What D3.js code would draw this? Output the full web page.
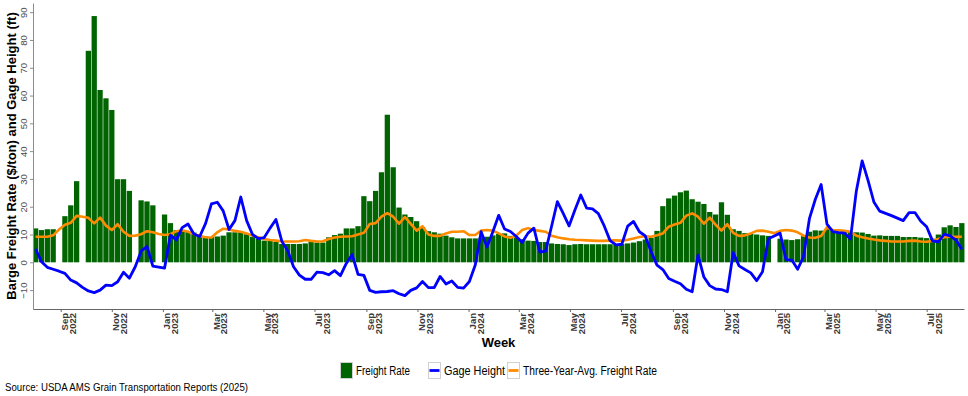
<!DOCTYPE html>
<html>
<head>
<meta charset="utf-8">
<script src="https://cdn.jsdelivr.net/npm/d3@7"></script>
<style>
  html, body { margin: 0; padding: 0; background: #fff; }
  svg { display: block; font-family: "Liberation Sans", Arial, sans-serif; }
</style>
</head>
<body>
<svg id="barge_chart" width="968" height="396"></svg>
<script>
//  data: weekly (Tuesday) observations starting 2022-08-02
const firstWeek = "2022-08-02";

//  $/ton, null = no report that week
const freightRate = [
  12.2, 11.6, 11.9, 11.9, null, 16.6, 20.5, 29.2, null, 76.1,
  88.6, 62.0, 59.0, 54.8, 29.9, 29.9, 25.7, null, 22.3, 21.9,
  20.5, null, 17.2, 14.1, 11.6, 11.2, 11.0, 10.7, 9.7, 9.3,
  9.1, 9.3, 9.6, 10.8, 10.8, 10.8, 10.1, 9.2, 8.4, 7.8,
  7.8, 7.4, 6.6, 6.6, 6.6, 6.6, 6.8, 7.3, 7.1, 7.1,
  9.0, 9.8, 10.3, 12.2, 12.2, 13.0, 23.8, 22.0, 25.7, 32.4,
  53.1, 34.2, 19.7, 17.2, 16.3, 14.8, 12.7, 11.2, 10.8, 10.3,
  9.6, 9.0, 8.6, 8.6, 8.6, 8.6, 8.9, 9.2, 9.7, 10.2,
  10.4, 9.5, 9.0, 8.3, 7.8, 7.7, 7.3, 7.3, 6.8, 6.6,
  6.5, 6.2, 6.5, 6.6, 6.5, 6.5, 6.5, 6.5, 6.5, 6.3,
  6.6, 6.8, 7.1, 7.6, 8.2, 8.8, 11.3, 20.2, 23.0, 24.0,
  25.2, 25.8, 22.7, 21.8, 21.0, 18.1, 17.2, 21.6, 17.1, 11.9,
  11.3, 10.5, 10.3, 10.0, 9.7, 9.5, null, 8.5, 8.2, 8.0,
  8.3, 9.4, 11.0, 11.5, 11.4, 11.9, 11.4, 11.0, 11.2, 11.0,
  10.8, 10.7, 10.2, 9.6, 9.7, 9.5, 9.5, 9.5, 9.1, 9.1,
  9.1, 8.9, 8.7, 8.5, 10.0, 12.6, 13.3, 12.7, 14.1
];

//  ft
const gageHeight = [
  4.8, 0.2, -1.8, -2.5, -3.2, -4.0, -6.4, -7.4, -9.0, -10.3,
  -10.9, -10.0, -8.2, -8.4, -7.0, -3.6, -5.7, -1.6, 4.0, 5.7,
  -1.4, -1.7, -2.1, 9.8, 8.1, 12.5, 13.8, 10.2, 9.3, 14.0,
  21.0, 21.6, 18.5, 11.8, 15.0, 23.5, 15.0, 10.0, 8.5, 8.9,
  12.3, 15.4, 7.6, 4.2, -1.6, -4.6, -6.1, -6.1, -3.5, -3.7,
  -4.5, -3.0, -4.8, -0.4, 2.8, -4.3, -4.7, -10.1, -10.8, -10.6,
  -10.5, -10.2, -11.3, -12.0, -10.1, -9.2, -6.9, -9.1, -9.1, -5.1,
  -7.8, -6.7, -9.0, -9.3, -6.9, -1.0, 11.0, 5.5, 11.0, 16.9,
  12.0, 11.1, 9.3, 7.1, 10.5, 12.3, 3.7, 4.0, 12.8, 21.8,
  17.6, 13.1, 18.8, 24.2, 19.5, 19.2, 17.5, 13.1, 7.8, 6.3,
  6.5, 13.0, 14.7, 11.0, 9.5, 3.8, -1.0, -2.6, -5.8, -6.8,
  -7.7, -9.7, -10.6, 2.6, -5.3, -8.4, -9.6, -9.8, -10.6, 3.5,
  -1.3, -2.6, -3.8, -6.6, -3.4, 8.5, 9.5, 10.5, 1.0, 0.8,
  -2.5, 2.1, 15.7, 22.6, 28.0, 13.7, 11.0, 10.7, 10.5, 8.4,
  25.6, 36.5, 29.5, 21.7, 18.4, 17.6, 16.8, 15.9, 15.0, 17.9,
  17.9, 14.8, 12.8, 7.7, 7.4, 10.1, 9.5, 8.0, 4.7
];

//  $/ton
const threeYearAvg = [
  9.2, 9.2, 9.2, 9.7, 11.8, 13.5, 14.2, 16.7, 16.4, 16.0,
  14.0, 16.1, 13.2, 11.6, 13.7, 11.0, 9.5, 9.6, 10.1, 11.2,
  10.8, 10.2, 9.8, 10.1, 11.2, 11.5, 11.0, 10.2, 9.5, 9.0,
  8.9, 10.8, 12.1, 11.8, 11.3, 11.0, 10.4, 9.6, 9.0, 8.4,
  8.0, 7.8, 7.6, 7.5, 7.5, 7.6, 8.0, 7.7, 7.5, 7.6,
  8.4, 8.9, 9.2, 9.3, 9.4, 10.0, 10.6, 13.8, 14.1, 16.4,
  17.7, 16.4, 13.9, 16.3, 13.8, 11.4, 13.0, 10.0, 9.5, 9.5,
  10.4, 11.0, 11.0, 11.2, 9.8, 9.8, 11.4, 11.6, 11.4, 10.4,
  9.3, 8.8, 9.6, 11.6, 12.3, 11.6, 11.3, 11.0, 9.6, 9.0,
  8.6, 8.3, 8.1, 8.0, 7.9, 7.8, 7.7, 7.7, 7.9, 7.9,
  7.8, 8.1, 8.6, 9.1, 9.4, 9.2, 9.7, 10.4, 12.8, 13.6,
  14.2, 16.8, 17.6, 16.4, 13.9, 16.1, 13.5, 11.4, 13.7, 10.6,
  9.5, 9.7, 10.4, 11.3, 11.4, 11.0, 10.5, 11.3, 11.6, 11.4,
  10.8, 9.6, 8.9, 8.8, 9.5, 12.6, 11.6, 11.5, 11.3, 11.0,
  9.6, 9.0, 8.6, 8.2, 7.9, 7.7, 7.5, 7.5, 7.5, 7.7,
  7.8, 7.5, 7.4, 7.7, 8.4, 9.0, 9.2, 9.2, 9.2
];

const yTicks = [-10, 0, 10, 20, 30, 40, 50, 60, 70, 80, 90];
const xTickMonths = [
  "2022-09-01", "2022-11-01", "2023-01-01", "2023-03-01", "2023-05-01", "2023-07-01",
  "2023-09-01", "2023-11-01", "2024-01-01", "2024-03-01", "2024-05-01", "2024-07-01",
  "2024-09-01", "2024-11-01", "2025-01-01", "2025-03-01", "2025-05-01", "2025-07-01"
];
const legendLabels = ["Freight Rate", "Gage Height", "Three-Year-Avg. Freight Rate"];
const sourceNote = "Source: USDA AMS Grain Transportation Reports (2025)";

//  no narrow font installed: squeeze regular sans to the narrow widths
function narrow(sel, widths) {
  sel.attr("textLength", (d, i) => widths[i]).attr("lengthAdjust", "spacingAndGlyphs");
}

//  draw
function draw_barge_chart() {
  const margin = ({top: 3, right: 4, bottom: 87, left: 33});
  const svg = d3.select("#barge_chart");
  svg.selectAll('*').remove();

  const w = +svg.attr("width");
  const h = +svg.attr("height");

  const day = 864e5;
  const start = d3.utcParse("%Y-%m-%d")(firstWeek);
  const weeks = freightRate.map((_, i) => new Date(+start + i * 7 * day));

  const x = d3.scaleUtc()
    .domain([new Date(+start - 3.1 * day), new Date(+weeks[weeks.length - 1] + 2.6 * day)])
    .range([margin.left, w - margin.right]);
  const y = d3.scaleLinear().domain([-16.8, 93.3]).range([h - margin.bottom, margin.top]);

  const barW = x(new Date(+start + 0.9 * 7 * day)) - x(start);

  //  bars
  svg.append("g")
    .selectAll("rect")
    .data(weeks.map((d, i) => ({date: d, v: freightRate[i]})).filter(d => d.v != null))
    .join("rect")
      .attr("x", d => x(d.date) - barW / 2)
      .attr("y", d => y(Math.max(0, d.v)))
      .attr("width", barW)
      .attr("height", d => Math.abs(y(d.v) - y(0)))
      .attr("fill", "#006400");

  const line = vals => d3.line()
    .defined((d, i) => vals[i] != null)
    .x(d => x(d))
    .y((d, i) => y(vals[i]))(weeks);

  svg.append("path")
    .attr("d", line(threeYearAvg))
    .attr("fill", "none")
    .attr("stroke", "#FF8C00")
    .attr("stroke-width", 2.6)
    .attr("stroke-linejoin", "round");

  svg.append("path")
    .attr("d", line(gageHeight))
    .attr("fill", "none")
    .attr("stroke", "#0000FF")
    .attr("stroke-width", 2.8)
    .attr("stroke-linejoin", "round");

  //  y axis
  const yAxis = svg.append("g")
    .attr("transform", `translate(${margin.left},0)`)
    .call(d3.axisLeft(y).tickValues(yTicks).tickSize(3).tickSizeOuter(0));
  yAxis.select(".domain").attr("stroke", "#8c8c8c");
  yAxis.selectAll(".tick line").attr("stroke", "#8c8c8c");
  yAxis.selectAll(".tick text")
    .attr("x", null).attr("dy", null)
    .attr("text-anchor", "middle")
    .attr("transform", "translate(-6,0) rotate(-90)")
    .attr("fill", "#4d4d4d")
    .attr("font-size", 9.6);

  //  x axis
  const xAxis = svg.append("g")
    .attr("transform", `translate(0,${h - margin.bottom})`)
    .call(d3.axisBottom(x).tickValues(xTickMonths.map(d3.utcParse("%Y-%m-%d"))).tickSize(3).tickSizeOuter(0).tickFormat(""));
  xAxis.select(".domain").attr("stroke", "#666");
  xAxis.selectAll(".tick line").attr("stroke", "#666");
  const lab = xAxis.selectAll(".tick").append("text")
    .attr("transform", "translate(7,4) rotate(-90)")
    .attr("text-anchor", "end")
    .attr("fill", "#3a3a3a")
    .attr("font-size", 9.5)
    .attr("font-weight", "bold");
  lab.append("tspan").attr("x", 0).attr("y", 0).text(d => d3.utcFormat("%b")(d));
  lab.append("tspan").attr("x", 0).attr("y", 7.6).text(d => d3.utcFormat("%Y")(d));

  //  axis titles
  svg.append("text")
    .attr("transform", `translate(16,${(margin.top + h - margin.bottom) / 2}) rotate(-90)`)
    .attr("text-anchor", "middle")
    .attr("font-size", 13).attr("font-weight", "bold")
    .text("Barge Freight Rate ($/ton) and Gage Height (ft)");

  svg.append("text")
    .attr("x", (margin.left + w - margin.right) / 2).attr("y", 347)
    .attr("text-anchor", "middle")
    .attr("font-size", 13).attr("font-weight", "bold")
    .text("Week");

  //  legend
  const keyColors = ["#006400", "#0000FF", "#FF8C00"];
  const legendX = [340, 428, 507];
  const lg = svg.append("g")
    .selectAll("g")
    .data(legendLabels)
    .join("g")
      .attr("transform", (d, i) => `translate(${legendX[i]},362)`);
  lg.append("rect")
    .attr("x", 0.5).attr("y", 0.5).attr("width", 12).attr("height", 16)
    .attr("fill", (d, i) => i == 0 ? keyColors[0] : "#fff")
    .attr("stroke", "#d0d0d0");
  lg.filter((d, i) => i > 0).append("line")
    .attr("x1", 1.5).attr("x2", 11.5).attr("y1", 8.5).attr("y2", 8.5)
    .attr("stroke", (d, i) => keyColors[i + 1])
    .attr("stroke-width", 2.8);
  lg.append("text")
    .attr("x", 16).attr("y", 12.5)
    .attr("font-size", 12)
    .text(d => d)
    .call(narrow, [54, 61, 134]);

  svg.append("text")
    .attr("x", 5).attr("y", 391)
    .attr("font-size", 10)
    .text(sourceNote)
    .call(narrow, [243]);
}

draw_barge_chart();
</script>
</body>
</html>
